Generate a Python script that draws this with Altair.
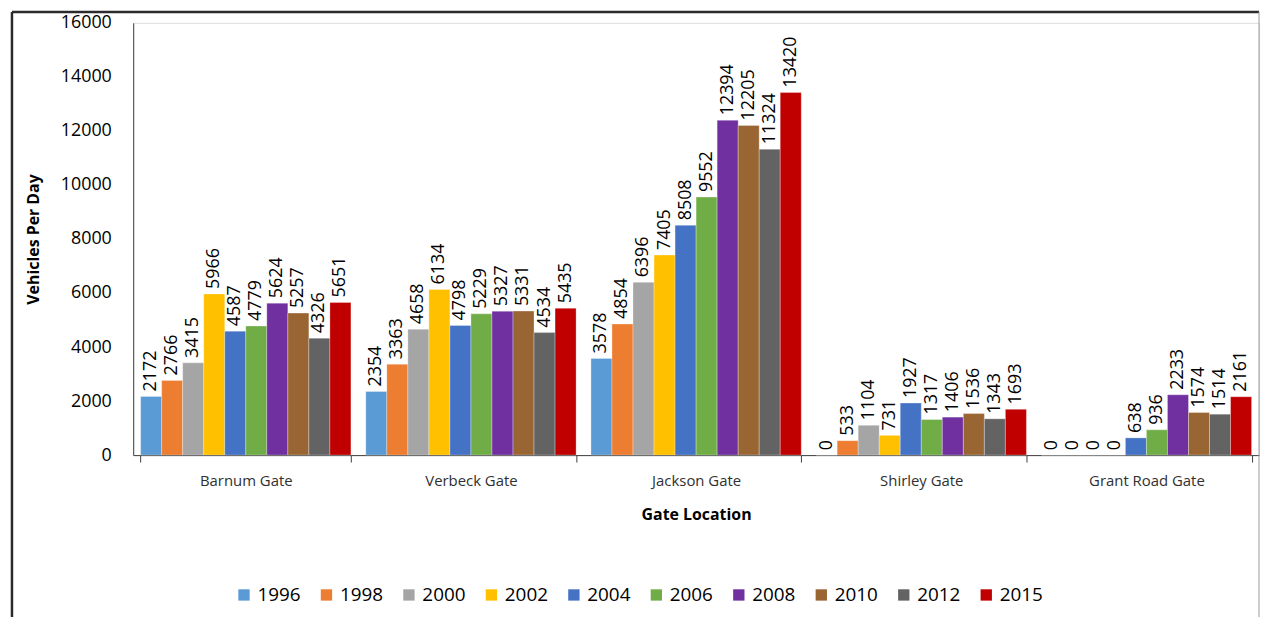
import altair as alt
import pandas as pd

gates = ["Barnum Gate", "Verbeck Gate", "Jackson Gate", "Shirley Gate", "Grant Road Gate"]
years = ["1996", "1998", "2000", "2002", "2004", "2006", "2008", "2010", "2012", "2015"]
colors = ["#5B9BD5", "#ED7D31", "#A5A5A5", "#FFC000", "#4472C4",
          "#70AD47", "#7030A0", "#996633", "#636363", "#C00000"]

barnum = [2172, 2766, 3415, 5966, 4587, 4779, 5624, 5257, 4326, 5651]
verbeck = [2354, 3363, 4658, 6134, 4798, 5229, 5327, 5331, 4534, 5435]
jackson = [3578, 4854, 6396, 7405, 8508, 9552, 12394, 12205, 11324, 13420]
shirley = [0, 533, 1104, 731, 1927, 1317, 1406, 1536, 1343, 1693]
grant = [0, 0, 0, 0, 638, 936, 2233, 1574, 1514, 2161]

rows = []
for g, vals in zip(gates, [barnum, verbeck, jackson, shirley, grant]):
    for y, v in zip(years, vals):
        rows.append({"Gate": g, "Year": y, "Vehicles": v})
df = pd.DataFrame(rows)

FONT = "Open Sans"
W, H = 1133, 435

x_enc = alt.X("Gate:N", sort=gates, title="Gate Location",
              scale=alt.Scale(paddingInner=0.066, paddingOuter=0.033),
              axis=alt.Axis(labelAngle=0, labelFontSize=15, labelColor="#303030",
                            labelFont=FONT, titleFont=FONT, titleFontSize=16,
                            titleFontWeight="bold", titleColor="#000000",
                            tickBand="extent", tickSize=7, tickColor="#404040",
                            domainColor="#404040", labelPadding=12, titlePadding=18))
xo_enc = alt.XOffset("Year:N", sort=years, scale=alt.Scale(paddingInner=0, paddingOuter=0))
y_enc = alt.Y("Vehicles:Q", title="Vehicles Per Day",
              scale=alt.Scale(domain=[0, 16000], nice=False),
              axis=alt.Axis(values=list(range(0, 16001, 2000)), format="d", grid=False,
                            labelFontSize=18, labelFont=FONT, labelColor="#000000",
                            titleFont=FONT, titleFontSize=16, titleFontWeight="bold",
                            titleColor="#000000", ticks=False, labelPadding=22,
                            domainColor="#404040", titlePadding=19))

bars = alt.Chart(df).mark_bar(stroke="#ffffff", strokeWidth=0.5, strokeOpacity=0.6).encode(
    x=x_enc,
    xOffset=xo_enc,
    y=y_enc,
    color=alt.Color("Year:N", sort=years, title=None,
                    scale=alt.Scale(domain=years, range=colors),
                    legend=alt.Legend(orient="none", legendX=102, legendY=566,
                                      direction="horizontal",
                                      symbolType="square", symbolSize=130,
                                      symbolStrokeWidth=0, labelFontSize=19,
                                      labelFont=FONT, labelColor="#000000",
                                      columnPadding=16, labelOffset=4)),
)

labels = alt.Chart(df).mark_text(angle=270, align="left", baseline="middle", dx=5,
                                 fontSize=18, font=FONT, color="#000000").encode(
    x=alt.X("Gate:N", sort=gates),
    xOffset=alt.XOffset("Year:N", sort=years),
    y=alt.Y("Vehicles:Q"),
    text=alt.Text("Vehicles:Q", format="d"),
)

# outer frame of the original figure (decoration)
frame_left = alt.Chart().mark_rule(color="#2b2b2b", strokeWidth=2.5).encode(
    x=alt.value(-122), y=alt.value(-11), y2=alt.value(598))
frame_top = alt.Chart().mark_rule(color="#2b2b2b", strokeWidth=2.5).encode(
    x=alt.value(-122), x2=alt.value(W), y=alt.value(-11))
frame_right = alt.Chart().mark_rule(color="#9a9a9a", strokeWidth=1).encode(
    x=alt.value(W), y=alt.value(-11), y2=alt.value(598))

chart = alt.layer(bars, labels, frame_left, frame_top, frame_right).properties(
    width=W, height=H,
    padding={"left": 2, "top": 0, "right": 0, "bottom": 0},
).configure_view(stroke=None).configure(background="#ffffff")

chart.save("out.html", embed_options={"renderer": "svg", "actions": False})
